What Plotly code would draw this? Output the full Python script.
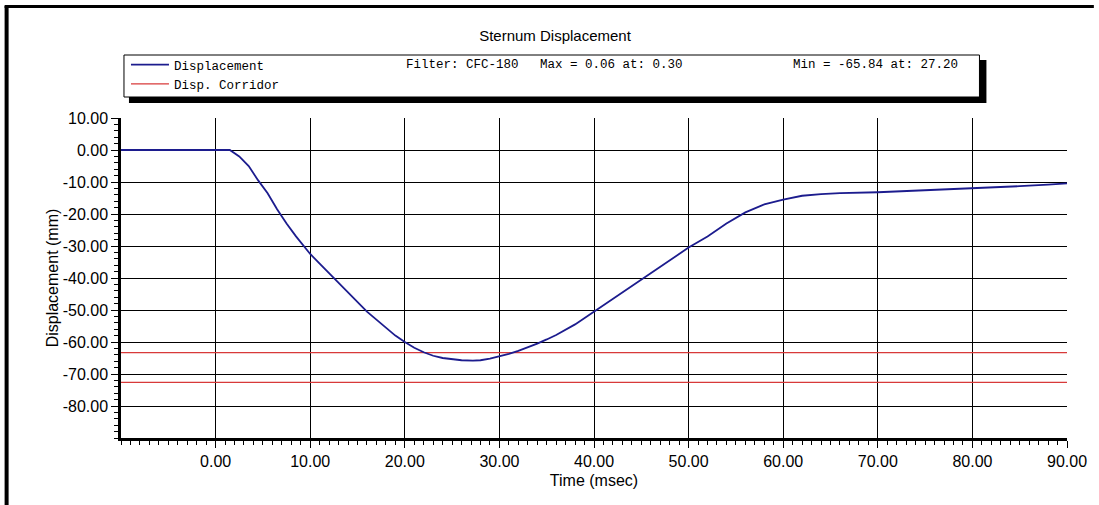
import plotly.graph_objects as go

# Sternum displacement trace (msec / mm)
time_ms = [-10, 0, 0.3, 1.5, 2.5, 3.5, 4.5, 5.5, 6.5, 7.5, 8.5, 9.5, 10,
           11, 12, 13, 14, 15, 16, 17, 18, 19, 20, 21, 22, 23, 24, 25, 26,
           27.2, 28, 29, 30, 31, 32, 33, 34, 35, 36, 38, 40, 42, 44, 46, 48,
           50, 52, 54, 56, 58, 60, 62, 64, 66, 70, 75, 80, 85, 88, 90]
displacement_mm = [0, 0, 0.06, 0, -2, -5, -9.5, -13.5, -18.5, -23, -27, -30.5, -32.5,
                   -35.5, -38.5, -41.5, -44.5, -47.5, -50.5, -53, -55.5, -58, -60,
                   -61.8, -63.2, -64.3, -65, -65.4, -65.7,
                   -65.84, -65.7, -65.2, -64.5, -63.7, -62.8, -61.7, -60.5, -59.2,
                   -57.8, -54.5, -50.5, -46.5, -42.5, -38.5, -34.5,
                   -30.5, -27, -23, -19.5, -17, -15.5, -14.3, -13.8, -13.5,
                   -13.2, -12.6, -11.9, -11.3, -10.8, -10.4]

# corridor limits (mm)
corridor_upper = -63.3
corridor_lower = -72.6

x_range = [-10, 90]
y_range = [-90, 10]
x_ticks = [0, 10, 20, 30, 40, 50, 60, 70, 80, 90]
y_ticks = [10, 0, -10, -20, -30, -40, -50, -60, -70, -80]

filter_text = "Filter: CFC-180"
max_text = "Max = 0.06 at: 0.30"
min_text = "Min = -65.84 at: 27.20"

# page geometry in pixels
W, H = 1099, 505
L, R, T, B = 121, 27, 118, 67


def px(x):
    # pixel column -> paper fraction
    return (x - L) / (W - L - R)


def py(y):
    # pixel row (from top) -> paper fraction
    return (H - B - y) / (H - T - B)


fig = go.Figure()

fig.add_trace(go.Scatter(
    x=[x_range[0], x_range[1], None, x_range[0], x_range[1]],
    y=[corridor_upper, corridor_upper, None, corridor_lower, corridor_lower],
    mode='lines',
    name='Disp. Corridor',
    line=dict(color='#d83a3a', width=1.3),
    legendrank=2
))

fig.add_trace(go.Scatter(
    x=time_ms,
    y=displacement_mm,
    mode='lines',
    name='Displacement',
    line=dict(color='#1c1c8e', width=1.8),
    legendrank=1
))

axis_font = dict(family='Liberation Sans', size=16, color='black')
mono = dict(family='Liberation Mono', size=12.5, color='black')

# legend box with drop shadow, plus outer frame on the left and top
shapes = [
    dict(type='rect', xref='paper', yref='paper',
         x0=px(129), x1=px(991), y0=py(60), y1=py(103),
         fillcolor='black', line=dict(width=0), layer='above'),
    dict(type='rect', xref='paper', yref='paper',
         x0=px(124), x1=px(984), y0=py(55), y1=py(97),
         fillcolor='white', line=dict(color='black', width=1), layer='above'),
    dict(type='line', xref='paper', yref='paper',
         x0=px(6), x1=px(6), y0=py(6), y1=py(505),
         line=dict(color='black', width=4)),
    dict(type='line', xref='paper', yref='paper',
         x0=px(4), x1=px(1099), y0=py(6.5), y1=py(6.5),
         line=dict(color='black', width=3)),
]

annotations = [
    dict(text=filter_text, x=px(405), y=py(65)),
    dict(text=max_text, x=px(540), y=py(65)),
    dict(text=min_text, x=px(795), y=py(65)),
]
for a in annotations:
    a.update(xref='paper', yref='paper', xanchor='left', yanchor='middle',
             showarrow=False, font=mono)

fig.update_layout(
    width=W, height=H,
    margin=dict(l=L, r=R, t=T, b=B),
    paper_bgcolor='white',
    plot_bgcolor='white',
    title=dict(text='Sternum Displacement', x=0.505, xanchor='center',
               y=1 - 36 / H, yanchor='middle',
               font=dict(family='Liberation Sans', size=15, color='black')),
    showlegend=True,
    legend=dict(x=px(126), y=py(50), xanchor='left', yanchor='top',
                bgcolor='rgba(0,0,0,0)', borderwidth=0, font=mono,
                itemwidth=38, tracegroupgap=0),
    shapes=shapes,
    annotations=annotations,
    xaxis=dict(
        range=x_range,
        tickmode='array', tickvals=x_ticks,
        ticktext=[f"{v:.2f}" for v in x_ticks],
        ticks='outside', ticklen=7, tickwidth=1, tickcolor='black',
        minor=dict(tickmode='linear', tick0=0, dtick=1, ticks='outside',
                   ticklen=4, tickcolor='black', showgrid=False),
        showgrid=True, gridcolor='black', gridwidth=1,
        zeroline=False,
        showline=True, linecolor='black', linewidth=2.5,
        tickfont=axis_font,
        title=dict(text='Time (msec)', font=axis_font, standoff=6),
    ),
    yaxis=dict(
        range=y_range,
        tickmode='array', tickvals=y_ticks,
        ticktext=[f"{v:.2f}" for v in y_ticks],
        ticks='outside', ticklen=7, tickwidth=1, tickcolor='black',
        minor=dict(tickmode='linear', tick0=0, dtick=2, ticks='outside',
                   ticklen=4, tickcolor='black', showgrid=False),
        showgrid=True, gridcolor='black', gridwidth=1,
        zeroline=False,
        showline=True, linecolor='black', linewidth=2.5,
        tickfont=axis_font,
        title=dict(text='Displacement (mm)', font=axis_font, standoff=1),
    ),
)

# the page body has an 8px default margin; drop it so the figure sits at 0,0
fig.write_html(
    "out.html",
    config={'displayModeBar': False},
    post_script="document.body.style.margin='0';"
                "document.body.style.overflow='hidden';"
                "document.documentElement.style.overflow='hidden';",
)
